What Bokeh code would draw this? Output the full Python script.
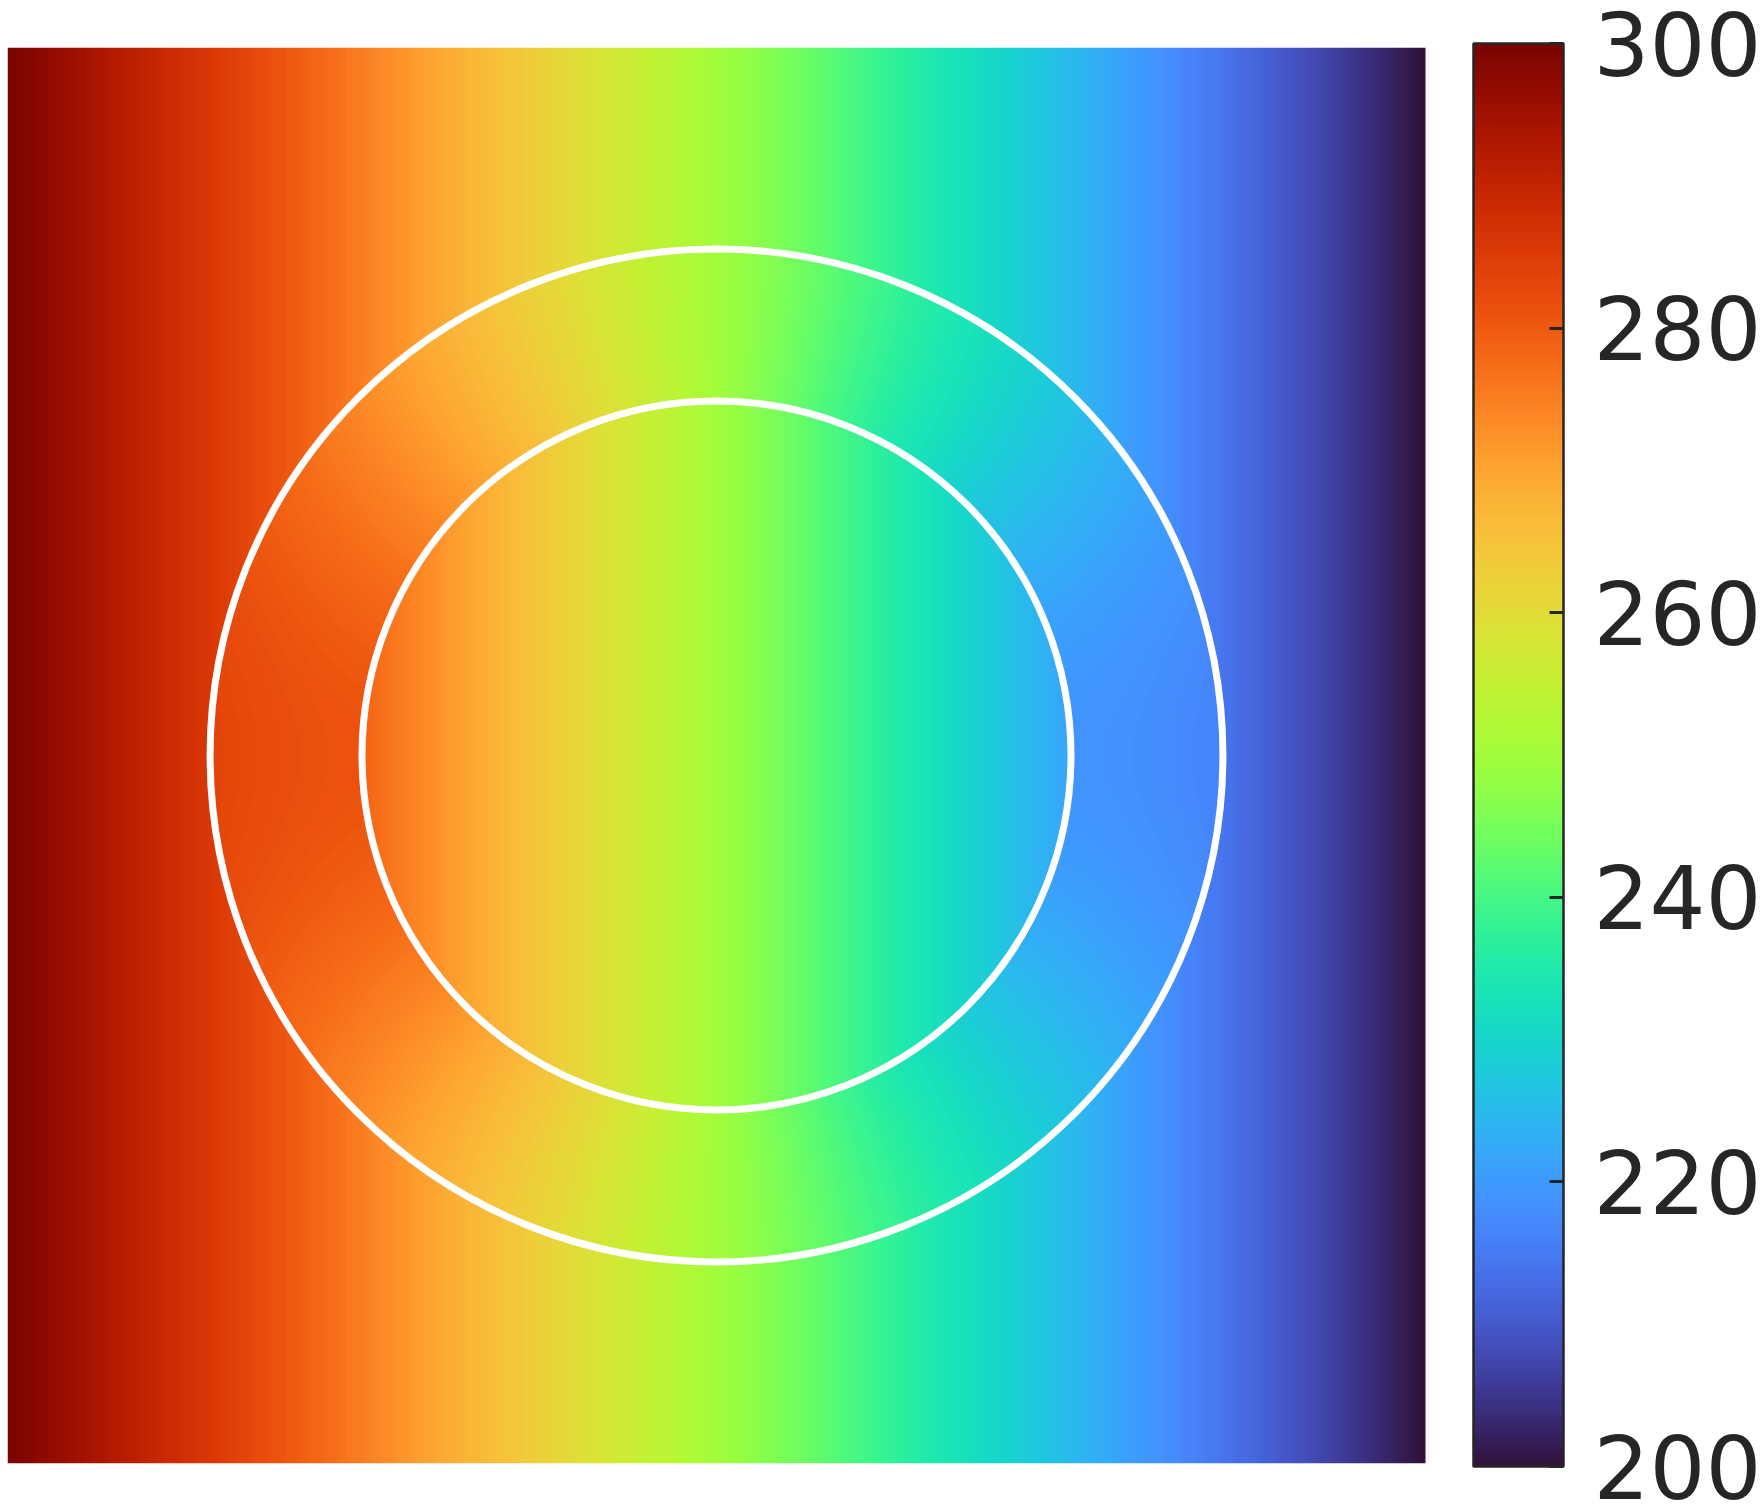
import numpy as np
from bokeh.plotting import figure
from bokeh.models import LinearColorMapper, ColorBar, FixedTicker, Range1d
from bokeh.palettes import Turbo256
from bokeh.embed import file_html
from bokeh.resources import INLINE

# ---------------- data ----------------
x_extent = [-1.4, 1.4]          # domain of the field
y_extent = [-1.4, 1.4]
t_left = 300.0                  # value on the left boundary
t_right = 200.0                 # value on the right boundary
ring_radii = [0.7, 1.0]         # inner / outer radius of the ring
ring_amplitudes = [31.0, 33.5]  # cos-amplitude of the ring field at inner / outer radius
core_amplitude = 28.5           # cos-amplitude of the uniform core field at the inner radius
cbar_low, cbar_high = 200, 300
cbar_ticks = [200, 220, 240, 260, 280, 300]
grid_n = 710

# ---------------- field ----------------
xs = np.linspace(x_extent[0], x_extent[1], grid_n)
ys = np.linspace(y_extent[0], y_extent[1], grid_n)
X, Y = np.meshgrid(xs, ys)
R = np.hypot(X, Y)
Rs = np.maximum(R, 1e-9)
t_mid = 0.5 * (t_left + t_right)
half_span = 0.5 * (t_left - t_right)
a, b = ring_radii
Aa, Ab = ring_amplitudes
# background: uniform gradient
field = t_mid - half_span * X / x_extent[1]
# ring: Laplace-type radial profile B*r + C/r matched to the two amplitudes
Bc, Cc = np.linalg.solve(np.array([[a, 1.0 / a], [b, 1.0 / b]]), np.array([Aa, Ab]))
in_ring = (R >= a) & (R <= b)
field = np.where(in_ring, t_mid - (Bc * Rs + Cc / Rs) * (X / Rs), field)
# core: uniform gradient
in_core = R < a
field = np.where(in_core, t_mid - core_amplitude * X / a, field)
field = field.astype(np.float32)

# ---------------- layout ----------------
left_px = 7
top_px = 47
heat_px_w = 1418
heat_px_h = 1416
frame_w = 1764 - left_px
x_end = x_extent[0] + (x_extent[1] - x_extent[0]) * frame_w / heat_px_w

mapper = LinearColorMapper(palette=Turbo256, low=cbar_low, high=cbar_high)

p = figure(
    frame_width=frame_w, frame_height=heat_px_h,
    x_range=Range1d(x_extent[0], x_end), y_range=Range1d(y_extent[0], y_extent[1]),
    output_backend="svg", toolbar_location=None,
    x_axis_location=None, y_axis_location=None,
    min_border_left=left_px, min_border_right=0,
    min_border_top=top_px, min_border_bottom=42,
)
p.grid.visible = False
p.outline_line_color = None
p.background_fill_color = "white"
p.border_fill_color = "white"

p.image(image=[field], x=x_extent[0], y=y_extent[0],
        dw=x_extent[1] - x_extent[0], dh=y_extent[1] - y_extent[0],
        color_mapper=mapper)

for r in ring_radii:
    p.circle(x=0, y=0, radius=r, fill_color=None, line_color="white", line_width=7)

cb = ColorBar(
    color_mapper=mapper,
    ticker=FixedTicker(ticks=cbar_ticks),
    location=(1466, -3), orientation="vertical",
    width=90, height=1423, padding=0, margin=0,
    background_fill_alpha=0, border_line_color=None,
    bar_line_color="#262626", bar_line_width=2.5,
    major_tick_line_color="#262626", major_tick_line_width=3,
    major_tick_in=14, major_tick_out=0,
    minor_tick_line_color=None,
    label_standoff=30,
    major_label_text_font="DejaVu Sans",
    major_label_text_font_size="88px",
    major_label_text_color="#262626",
)
p.add_layout(cb, "center")

open("out.html", "w").write(file_html(p, INLINE))
